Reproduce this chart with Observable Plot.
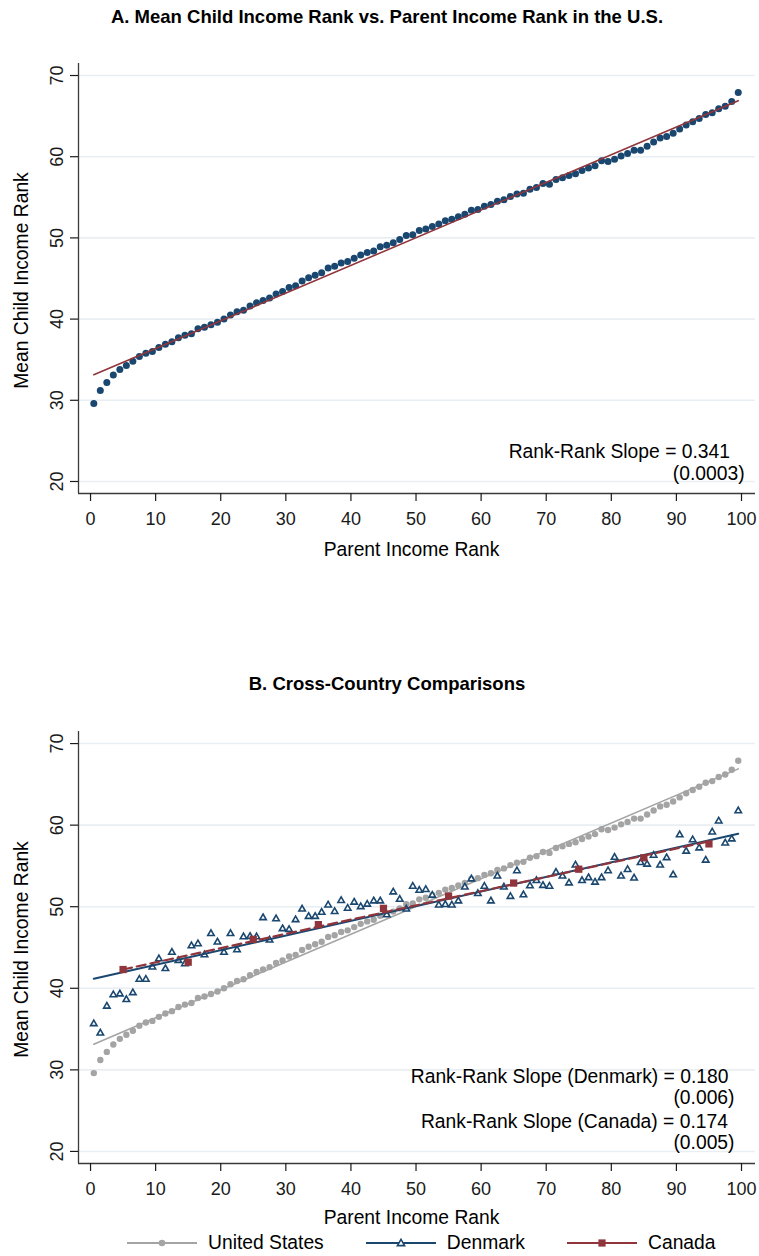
<!DOCTYPE html>
<html><head><meta charset="utf-8">
<script src="https://cdn.jsdelivr.net/npm/d3@7"></script>
<script src="https://cdn.jsdelivr.net/npm/@observablehq/plot@0.6"></script>
<style>
body{margin:0;background:#fff;font-family:"Liberation Sans",Arial,Helvetica,sans-serif;color:#000;}
#page{position:relative;width:759px;height:1256px;overflow:hidden;background:#fff;}
.title{position:absolute;left:387px;transform:translateX(-50%);white-space:nowrap;font-weight:bold;font-size:18.5px;line-height:1;}
.chart{position:absolute;left:0;}
#legend{position:absolute;left:127px;top:1231px;display:flex;align-items:center;gap:42px;font-size:19.3px;line-height:24px;}
.item{display:flex;align-items:center;gap:11px;}
.item svg{display:block;}
</style></head>
<body><div id="page">
<div class="title" style="top:8px">A. Mean Child Income Rank vs. Parent Income Rank in the U.S.</div>
<div class="chart" id="chartA" style="top:40px"></div>
<div class="title" style="top:675px">B. Cross-Country Comparisons</div>
<div class="chart" id="chartB" style="top:700px"></div>
<div id="legend"></div>
</div>
<script>
// ---- data ----
const parentRank = d3.range(0.5, 100, 1); // percentile midpoints 1..100
const usRank = [
  29.6, 31.2, 32.2, 33.1, 33.8, 34.3, 34.8, 35.4, 35.8, 36.0,
  36.5, 36.9, 37.2, 37.7, 38.0, 38.2, 38.8, 39.0, 39.3, 39.6,
  40.0, 40.5, 40.9, 41.1, 41.6, 42.0, 42.3, 42.6, 43.1, 43.4,
  43.9, 44.1, 44.7, 45.1, 45.4, 45.7, 46.3, 46.5, 46.9, 47.1,
  47.5, 47.9, 48.2, 48.4, 48.9, 49.1, 49.4, 49.8, 50.3, 50.4,
  50.9, 51.1, 51.4, 51.7, 52.1, 52.3, 52.6, 52.9, 53.4, 53.5,
  53.9, 54.1, 54.5, 54.7, 55.1, 55.4, 55.5, 56.0, 56.2, 56.7,
  56.6, 57.2, 57.4, 57.7, 57.9, 58.3, 58.6, 58.9, 59.5, 59.4,
  59.7, 60.1, 60.4, 60.8, 60.8, 61.3, 61.8, 62.3, 62.5, 62.9,
  63.4, 63.9, 64.3, 64.7, 65.2, 65.4, 65.9, 66.2, 66.8, 67.9
];
const denmarkRank = [
  35.65, 34.5, 37.8, 39.2, 39.3, 38.6, 39.45, 41.1, 41.1, 42.6,
  43.6, 42.4, 44.4, 43.4, 43.0, 45.2, 45.45, 44.1, 46.7, 45.65,
  44.4, 46.7, 44.7, 46.3, 46.35, 46.3, 48.65, 45.9, 48.5, 47.3,
  47.2, 48.4, 49.7, 48.8, 48.8, 49.3, 50.2, 49.4, 50.75, 49.8,
  50.55, 50.0, 50.3, 50.7, 50.7, 49.0, 51.8, 50.9, 49.7, 52.5,
  52.0, 52.1, 51.4, 50.2, 50.25, 50.2, 50.7, 52.4, 53.4, 51.6,
  52.5, 50.7, 53.75, 52.4, 51.25, 54.4, 51.45, 52.55, 53.2, 52.6,
  52.5, 54.2, 53.75, 52.9, 55.1, 53.2, 53.55, 53.0, 53.55, 54.4,
  56.05, 53.75, 54.55, 53.5, 55.4, 55.2, 56.3, 55.1, 56.0, 53.9,
  58.8, 56.8, 58.2, 57.2, 55.7, 59.15, 60.5, 57.8, 58.3, 61.75
];
const canadaParent = [5, 15, 25, 35, 45, 55, 65, 75, 85, 95];
const canadaRank = [42.3, 43.2, 46.0, 47.8, 49.8, 51.3, 52.9, 54.6, 56.0, 57.7];
const xTicks = [0, 10, 20, 30, 40, 50, 60, 70, 80, 90, 100];
const yTicks = [20, 30, 40, 50, 60, 70];
const seriesNames = ["United States", "Denmark", "Canada"];
const xTitle = "Parent Income Rank";
const yTitle = "Mean Child Income Rank";
const noteA = ["Rank-Rank Slope = 0.341", "(0.0003)"];
const noteB = ["Rank-Rank Slope (Denmark) = 0.180", "(0.006)", "Rank-Rank Slope (Canada) = 0.174", "(0.005)"];

// ---- styles ----
const NAVY = "#1a476f", MAROON = "#90353b", GRAY = "#a4a4a4", GRID = "#e8eef1", AXIS = "#3a3a3a";
const FONT = "'Liberation Sans', Arial, Helvetica, sans-serif";
const xDomain = [-1.85, 102.15], yDomain = [18.52, 71.48];

const us = parentRank.map((x, i) => ({x, y: usRank[i]}));
const dk = parentRank.map((x, i) => ({x, y: denmarkRank[i]}));
const ca = canadaParent.map((x, i) => ({x, y: canadaRank[i]}));

const T = {fontSize: 19.3, fill: "#000", lineAnchor: "middle"};

function frameMarks(xTitleDy) {
  return [
    Plot.gridY(yTicks, {stroke: GRID, strokeOpacity: 1, strokeWidth: 1.6}),
    Plot.ruleX([xDomain[0]], {stroke: AXIS, strokeWidth: 1.3}),
    Plot.ruleY([yDomain[0]], {stroke: AXIS, strokeWidth: 1.3}),
    Plot.axisX(xTicks, {tickSize: 8, tickPadding: 11, fontSize: 18, color: "#1a1a1a", strokeWidth: 1.2, label: null}),
    Plot.axisY(yTicks, {tickSize: 8, tickFormat: () => "", color: "#1a1a1a", strokeWidth: 1.2, label: null}),
    Plot.text(yTicks, {x: xDomain[0], y: d => d, text: d => String(d), rotate: -90, dx: -21.5, fontSize: 18, fill: "#1a1a1a", textAnchor: "middle", lineAnchor: "middle"}),
    Plot.text([yTitle], {...T, frameAnchor: "left", textAnchor: "middle", rotate: -90, dx: -57, dy: 2}),
    Plot.text([xTitle], {...T, frameAnchor: "bottom", textAnchor: "middle", dx: -5.5, dy: xTitleDy})
  ];
}

const chartA = Plot.plot({
  width: 759, height: 540, marginLeft: 78, marginRight: 4, marginTop: 23, marginBottom: 87,
  x: {domain: xDomain}, y: {domain: yDomain},
  style: {fontFamily: FONT, background: "white", overflow: "visible"},
  marks: [
    ...frameMarks(56.7),
    Plot.dot(us, {x: "x", y: "y", r: 3.5, fill: NAVY}),
    Plot.linearRegressionY(us, {x: "x", y: "y", stroke: MAROON, strokeWidth: 1.6, ci: 0}),
    Plot.text([noteA[0]], {...T, frameAnchor: "bottom-right", textAnchor: "end", dx: -25.5, dy: -41.2}),
    Plot.text([noteA[1]], {...T, frameAnchor: "bottom-right", textAnchor: "end", dx: -10.8, dy: -19.9})
  ]
});
document.getElementById("chartA").append(chartA);

const chartB = Plot.plot({
  width: 759, height: 528, marginLeft: 78, marginRight: 4, marginTop: 31, marginBottom: 65,
  x: {domain: xDomain}, y: {domain: yDomain},
  style: {fontFamily: FONT, background: "white", overflow: "visible"},
  marks: [
    ...frameMarks(54.7),
    Plot.dot(us, {x: "x", y: "y", r: 3.2, fill: GRAY}),
    Plot.linearRegressionY(us, {x: "x", y: "y", stroke: GRAY, strokeWidth: 1.6, ci: 0}),
    Plot.dot(dk, {x: "x", y: "y", symbol: "triangle", r: 2.4, stroke: NAVY, strokeWidth: 1.6, fill: "white"}),
    Plot.linearRegressionY(dk, {x: "x", y: "y", stroke: NAVY, strokeWidth: 2, ci: 0}),
    Plot.linearRegressionY(ca, {x: "x", y: "y", stroke: MAROON, strokeWidth: 2.2, strokeDasharray: "9,5", ci: 0}),
    Plot.dot(ca, {x: "x", y: "y", symbol: "square", r: 4.1, fill: MAROON}),
    Plot.text([noteB[0]], {...T, frameAnchor: "bottom-right", textAnchor: "end", dx: -27, dy: -86.9}),
    Plot.text([noteB[1]], {...T, frameAnchor: "bottom-right", textAnchor: "end", dx: -21, dy: -65.9}),
    Plot.text([noteB[2]], {...T, frameAnchor: "bottom-right", textAnchor: "end", dx: -27.5, dy: -41.9}),
    Plot.text([noteB[3]], {...T, frameAnchor: "bottom-right", textAnchor: "end", dx: -21, dy: -20.9})
  ]
});
document.getElementById("chartB").append(chartB);

// ---- legend ----
const legendColors = [GRAY, NAVY, MAROON];
const legendMarkers = [
  `<circle cx="35" cy="7" r="3.3" fill="${GRAY}"/>`,
  `<path d="M35,3.3 L38.6,9.6 L31.4,9.6 Z" fill="white" stroke="${NAVY}" stroke-width="1.6"/>`,
  `<rect x="31.4" y="3.4" width="7.2" height="7.2" fill="${MAROON}"/>`
];
const legend = document.getElementById("legend");
seriesNames.forEach((name, i) => {
  const item = document.createElement("div");
  item.className = "item";
  item.innerHTML = `<svg width="70" height="14"><line x1="0" x2="70" y1="7" y2="7" stroke="${legendColors[i]}" stroke-width="2"/>${legendMarkers[i]}</svg><span>${name}</span>`;
  legend.append(item);
});
</script>
</body></html>
